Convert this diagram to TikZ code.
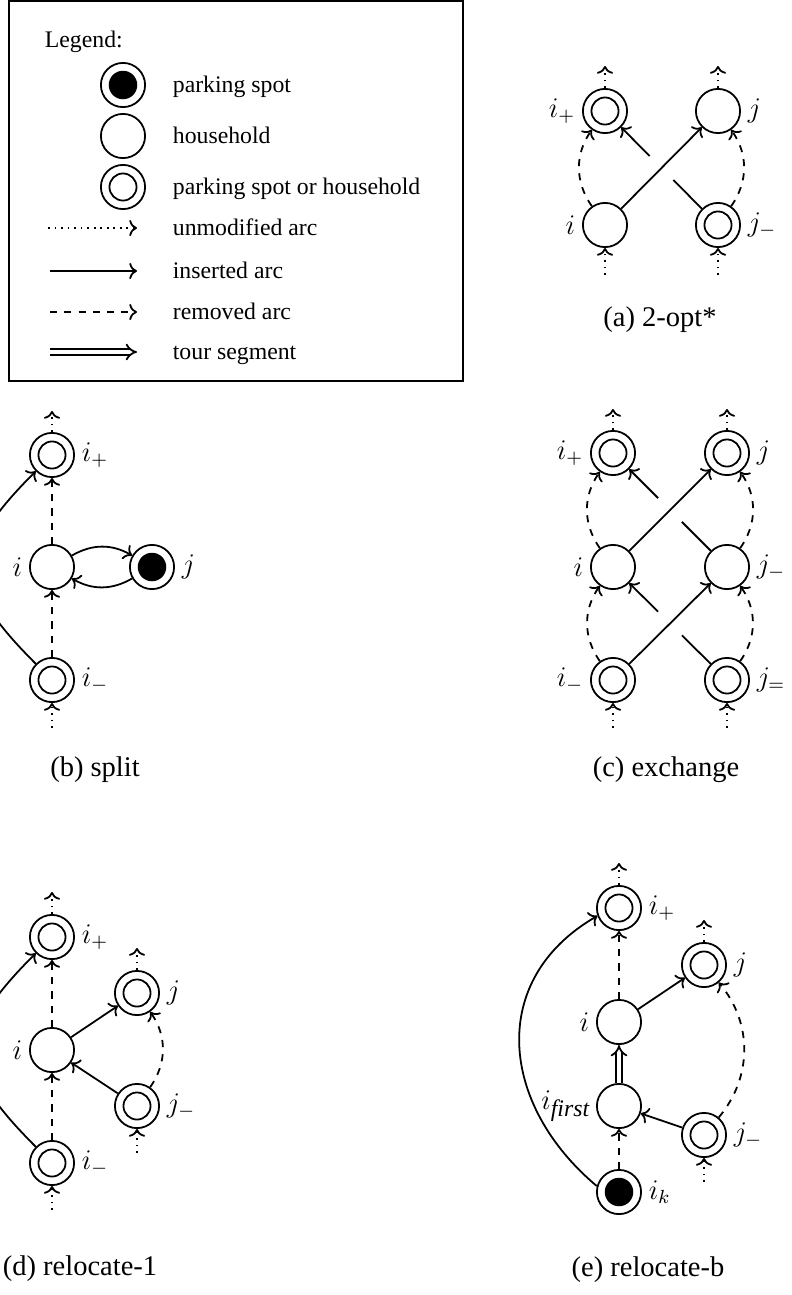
\documentclass[tikz,border=0pt]{standalone}
\usepackage{amsmath}
\usepackage[no-math]{fontspec}
\setmainfont{Liberation Serif}
\usetikzlibrary{calc,arrows.meta}
\begin{document}
\begin{tikzpicture}[x=0.4209pt,y=0.4209pt, line width=0.75pt,
  nhh/.style={circle,draw,minimum size=18.6pt,inner sep=0pt},
  nboth/.style={nhh,path picture={\draw (path picture bounding box.center) circle (5.7pt);}},
  npark/.style={nhh,path picture={\fill (path picture bounding box.center) circle (6pt);}},
  lbltxt/.style={inner sep=0pt,anchor=mid west},
  captxt/.style={font=\fontsize{12}{14}\selectfont},
  insarc/.style={->},
  remarc/.style={->,dashed},
  unmarc/.style={->,dotted},
  tourseg/.style={double,double distance=1.6pt,-{Implies}},
  gapband/.style={draw=white,line width=14pt},
  every label/.style={inner sep=2.5pt,font=\fontsize{12}{14}\selectfont}
]
\useasboundingbox (0,0) rectangle (791,-1295);
\clip (0,0) rectangle (791,-1295);

% ---------------- Legend ----------------
\draw[line width=0.5pt] (9,-1) rectangle (463,-381);
\node[inner sep=0pt,anchor=west] (lgt) at (44,-42) {Legend:};
\node[npark] (lgpark) at (123,-85) {};
\node[lbltxt] (lgparkt) at (172,-87) {parking spot};
\node[nhh] (lghh) at (123,-136) {};
\node[lbltxt] (lghht) at (172,-138) {household};
\node[nboth] (lgboth) at (123,-187) {};
\node[lbltxt] (lgbotht) at (172,-189) {parking spot or household};
\coordinate (lgua) at (48,-228); \coordinate (lgub) at (137,-228);
\draw[unmarc] (lgua) -- (lgub);
\node[lbltxt] (lgut) at (172,-230) {unmodified arc};
\coordinate (lgia) at (50,-271); \coordinate (lgib) at (137,-271);
\draw[insarc] (lgia) -- (lgib);
\node[lbltxt] (lgit) at (172,-273) {inserted arc};
\coordinate (lgra) at (50,-312); \coordinate (lgrb) at (137,-312);
\draw[remarc] (lgra) -- (lgrb);
\node[lbltxt] (lgrt) at (172,-314) {removed arc};
\coordinate (lgta) at (50,-352); \coordinate (lgtb) at (137,-352);
\draw[tourseg] (lgta) -- (lgtb);
\node[lbltxt] (lgtt) at (172,-354) {tour segment};

% ---------------- (a) 2-opt* ----------------
\node[nboth,label={left:$i_+$}] (aip) at (605,-111) {};
\node[nhh,label={right:$j$}] (aj) at (718,-111) {};
\node[nhh,label={left:$i$}] (ai) at (605,-225) {};
\node[nboth,label={right:$j_-$}] (ajm) at (718,-225) {};
\coordinate (aipT) at (605,-66); \coordinate (ajT) at (718,-66);
\coordinate (aiB) at (605,-275); \coordinate (ajmB) at (718,-275);
\draw[unmarc] (aip) -- (aipT); \draw[unmarc] (aj) -- (ajT);
\draw[unmarc] (aiB) -- (ai); \draw[unmarc] (ajmB) -- (ajm);
\draw[remarc] (ai) to[bend left=35] (aip);
\draw[remarc] (ajm) to[bend right=35] (aj);
\draw[insarc] (ajm) -- (aip);
\path[gapband] ($(ai)!0.45!(aj)$) -- ($(ai)!0.55!(aj)$);
\draw[insarc] (ai) -- (aj);
\node[captxt] (capa) at (660,-320) {(a) 2-opt*};

% ---------------- (b) split ----------------
\node[nboth,label={right:$i_+$}] (bip) at (52,-455) {};
\node[nhh,label={left:$i$}] (bi) at (52,-567) {};
\node[npark,label={right:$j$}] (bj) at (152,-567) {};
\node[nboth,label={right:$i_-$}] (bim) at (52,-680) {};
\coordinate (bipT) at (52,-411); \coordinate (bimB) at (52,-728);
\draw[unmarc] (bip) -- (bipT); \draw[unmarc] (bimB) -- (bim);
\draw[remarc] (bim) -- (bi); \draw[remarc] (bi) -- (bip);
\draw[insarc] (bi) to[bend left=30] (bj);
\draw[insarc] (bj) to[bend left=30] (bi);
\draw[insarc] (bim) to[out=135,in=225,looseness=1.5] (bip);
\node[captxt] (capb) at (95,-770) {(b) split};

% ---------------- (c) exchange ----------------
\node[nboth,label={left:$i_+$}] (cip) at (613,-453) {};
\node[nboth,label={right:$j$}] (cj) at (727,-453) {};
\node[nhh,label={left:$i$}] (ci) at (613,-567) {};
\node[nhh,label={right:$j_-$}] (cjm) at (727,-567) {};
\node[nboth,label={left:$i_-$}] (cim) at (613,-680) {};
\node[nboth,label={right:$j_=$}] (cjmm) at (727,-680) {};
\coordinate (cipT) at (613,-409); \coordinate (cjT) at (727,-409);
\coordinate (cimB) at (613,-728); \coordinate (cjmmB) at (727,-728);
\draw[unmarc] (cip) -- (cipT); \draw[unmarc] (cj) -- (cjT);
\draw[unmarc] (cimB) -- (cim); \draw[unmarc] (cjmmB) -- (cjmm);
\draw[remarc] (ci) to[bend left=35] (cip);
\draw[remarc] (cim) to[bend left=35] (ci);
\draw[remarc] (cjm) to[bend right=35] (cj);
\draw[remarc] (cjmm) to[bend right=35] (cjm);
\draw[insarc] (cjm) -- (cip);
\path[gapband] ($(ci)!0.45!(cj)$) -- ($(ci)!0.55!(cj)$);
\draw[insarc] (ci) -- (cj);
\draw[insarc] (cjmm) -- (ci);
\path[gapband] ($(cim)!0.45!(cjm)$) -- ($(cim)!0.55!(cjm)$);
\draw[insarc] (cim) -- (cjm);
\node[captxt] (capc) at (666,-770) {(c) exchange};

% ---------------- (d) relocate-1 ----------------
\node[nboth,label={right:$i_+$}] (dip) at (52,-937) {};
\node[nboth,label={right:$j$}] (dj) at (137,-993) {};
\node[nhh,label={left:$i$}] (di) at (52,-1050) {};
\node[nboth,label={right:$j_-$}] (djm) at (137,-1106) {};
\node[nboth,label={right:$i_-$}] (dim) at (52,-1163) {};
\coordinate (dipT) at (52,-892); \coordinate (djT) at (137,-948);
\coordinate (djmB) at (137,-1153); \coordinate (dimB) at (52,-1210);
\draw[unmarc] (dip) -- (dipT); \draw[unmarc] (dj) -- (djT);
\draw[unmarc] (djmB) -- (djm); \draw[unmarc] (dimB) -- (dim);
\draw[remarc] (di) -- (dip); \draw[remarc] (dim) -- (di);
\draw[remarc] (djm) to[bend right=35] (dj);
\draw[insarc] (di) -- (dj);
\draw[insarc] (djm) -- (di);
\draw[insarc] (dim) to[out=135,in=225,looseness=1.5] (dip);
\node[captxt] (capd) at (80,-1269) {(d) relocate-1};

% ---------------- (e) relocate-b ----------------
\node[nboth,label={right:$i_+$}] (eip) at (619,-908) {};
\node[nboth,label={right:$j$}] (ej) at (704,-965) {};
\node[nhh,label={left:$i$}] (ei) at (619,-1022) {};
\node[nhh,label={[inner sep=2pt]left:$i_{\text{\fontsize{10}{12}\selectfont\itshape first}}$}] (eif) at (619,-1106) {};
\node[nboth,label={right:$j_-$}] (ejm) at (704,-1135) {};
\node[npark,label={right:$i_k$}] (eik) at (619,-1192) {};
\coordinate (eipT) at (619,-863); \coordinate (ejT) at (704,-920);
\coordinate (ejmB) at (704,-1182);
\draw[unmarc] (eip) -- (eipT); \draw[unmarc] (ej) -- (ejT);
\draw[unmarc] (ejmB) -- (ejm);
\draw[remarc] (ei) -- (eip); \draw[remarc] (eik) -- (eif);
\draw[remarc] (ejm) to[bend right=40] (ej);
\draw[insarc] (ei) -- (ej);
\draw[insarc] (ejm) -- (eif);
\draw[tourseg] (eif) -- (ei);
\draw[insarc] (eik.165) to[out=140,in=210,looseness=1.2] (eip.200);
\node[captxt] (cape) at (648,-1270) {(e) relocate-b};
\end{tikzpicture}
\end{document}
